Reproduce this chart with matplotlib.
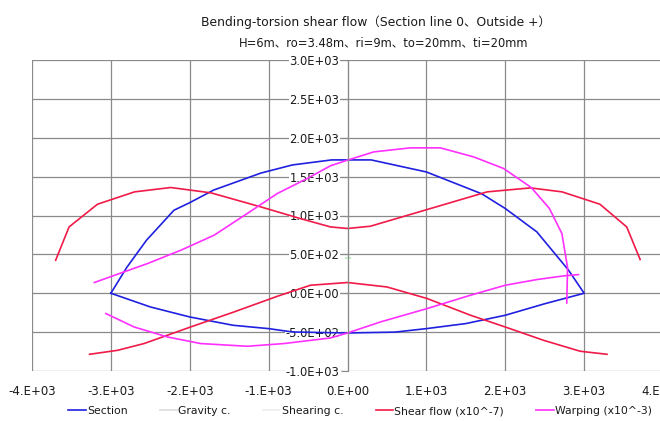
import numpy as np
import matplotlib
matplotlib.use("Agg")
import matplotlib.pyplot as plt
from matplotlib.lines import Line2D

plt.rcParams['font.family'] = ['DejaVu Sans', 'Noto Sans CJK JP']

# --- data ---
sec_up_x = [-3000, -2800, -2550, -2200, -2000, -1700, -1100, -700, -200, 300, 1000, 1700, 2000, 2400, 2800, 3000]
sec_up_y = [0, 330, 680, 1068, 1165, 1326, 1545, 1650, 1715, 1715, 1560, 1280, 1090, 790, 300, 0]
sec_lo_x = [3000, 2500, 2000, 1500, 1000, 600, 0, -700, -1000, -1450, -2000, -2500, -3000]
sec_lo_y = [0, -135, -283, -390, -455, -500, -511, -498, -455, -412, -305, -176, 0]

shear_up_x = [-3700, -3530, -3170, -2700, -2240, -1730, -1100, -600, -215, 0, 290, 1010, 1770, 2320, 2720, 3200, 3540, 3710]
shear_up_y = [425, 853, 1145, 1304, 1360, 1291, 1111, 961, 853, 833, 862, 1077, 1304, 1355, 1304, 1145, 853, 434]
shear_lo_x = [-3270, -2915, -2580, -1990, -1440, -890, -470, 0, 500, 1010, 1560, 2000, 2485, 2950, 3290]
shear_lo_y = [-785, -734, -647, -434, -241, -39, 103, 138, 81, -68, -283, -434, -605, -746, -785]

warp_up_x = [-3210, -2915, -2535, -2114, -1692, -1270, -890, -510, -215, 0, 333, 797, 1177, 1599, 1978, 2330, 2560, 2718, 2790, 2780]
warp_up_y = [138, 245, 382, 553, 746, 1026, 1283, 1476, 1640, 1712, 1818, 1870, 1870, 1754, 1605, 1360, 1090, 768, 330, -125]
warp_lo_x = [-3063, -2705, -2283, -1861, -1270, -806, -215, 0, 418, 1009, 1557, 2000, 2401, 2738, 2928]
warp_lo_y = [-261, -434, -562, -647, -682, -647, -575, -511, -369, -197, -26, 103, 176, 223, 240]

gravity_x = [0]
gravity_y = [450]

x_ticks = [-4000, -3000, -2000, -1000, 0, 1000, 2000, 3000, 4000]
x_labels = ['-4.E+03', '-3.E+03', '-2.E+03', '-1.E+03', '0.E+00', '1.E+03', '2.E+03', '3.E+03', '4.E+03']
y_ticks = [-1000, -500, 0, 500, 1000, 1500, 2000, 2500, 3000]
y_labels = ['-1.0E+03', '-5.0E+02', '0.0E+00', '5.0E+02', '1.0E+03', '1.5E+03', '2.0E+03', '2.5E+03', '3.0E+03']

BLUE = '#2020e0'
RED = '#f01a48'
MAG = '#ff30ff'
GRID = '#8a8a8a'
TXT = '#1a1a1a'

W, H = 660, 421
fig = plt.figure(figsize=(W / 100, H / 100), dpi=100)
ax = fig.add_axes([32 / W, 50 / H, 631 / W, 311 / H])

ax.set_xlim(-4000, 4000)
ax.set_ylim(-1000, 3000)

ax.plot(sec_up_x + sec_lo_x[1:], sec_up_y + sec_lo_y[1:], color=BLUE, lw=1.2)
ax.plot(shear_up_x, shear_up_y, color=RED, lw=1.2)
ax.plot(shear_lo_x, shear_lo_y, color=RED, lw=1.2)
ax.plot(warp_up_x, warp_up_y, color=MAG, lw=1.2)
ax.plot(warp_lo_x, warp_lo_y, color=MAG, lw=1.2)
ax.plot(gravity_x, gravity_y, linestyle='none', marker='_', ms=5, mew=1.2, color='#b8e8b8')

ax.set_xticks(x_ticks)
ax.set_xticklabels(x_labels)
ax.set_yticks(y_ticks)
ax.set_yticklabels(y_labels)
ax.grid(True, color=GRID, lw=0.9)
ax.set_axisbelow(True)

for s in ['top', 'right', 'bottom']:
    ax.spines[s].set_visible(False)
ax.spines['left'].set_position(('data', 0))
ax.spines['left'].set_color(GRID)
ax.tick_params(axis='y', direction='out', length=5, color=GRID, labelsize=8.3, pad=1, labelcolor=TXT)
ax.tick_params(axis='x', length=0, labelsize=8.5, pad=10, labelcolor=TXT)
for lab in ax.get_yticklabels():
    lab.set_bbox(dict(facecolor='white', edgecolor='none', pad=0.3))

fig.text(376 / W, 1 - 22 / H, 'Bending-torsion shear flow（Section line 0、Outside +）',
         ha='center', va='center', fontsize=8.9, color=TXT)
fig.text(384 / W, 1 - 43 / H, 'H=6m、ro=3.48m、ri=9m、to=20mm、ti=20mm',
         ha='center', va='center', fontsize=8.3, color=TXT)

handles = [
    Line2D([], [], color=BLUE, lw=1.2),
    Line2D([], [], color='#dcdcdc', lw=1.2),
    Line2D([], [], color='#eeeeee', lw=1.2),
    Line2D([], [], color=RED, lw=1.2),
    Line2D([], [], color=MAG, lw=1.2),
]
labels = ['Section', 'Gravity c.', 'Shearing c.', 'Shear flow (x10^-7)', 'Warping (x10^-3)']
fig.legend(handles, labels, loc='center', bbox_to_anchor=(360 / W, 1 - 411 / H), ncol=5,
           frameon=False, fontsize=7.8, handlelength=1.6, handletextpad=0.1, columnspacing=3.0,
           labelcolor=TXT)

fig.savefig('out.png', dpi=100)
